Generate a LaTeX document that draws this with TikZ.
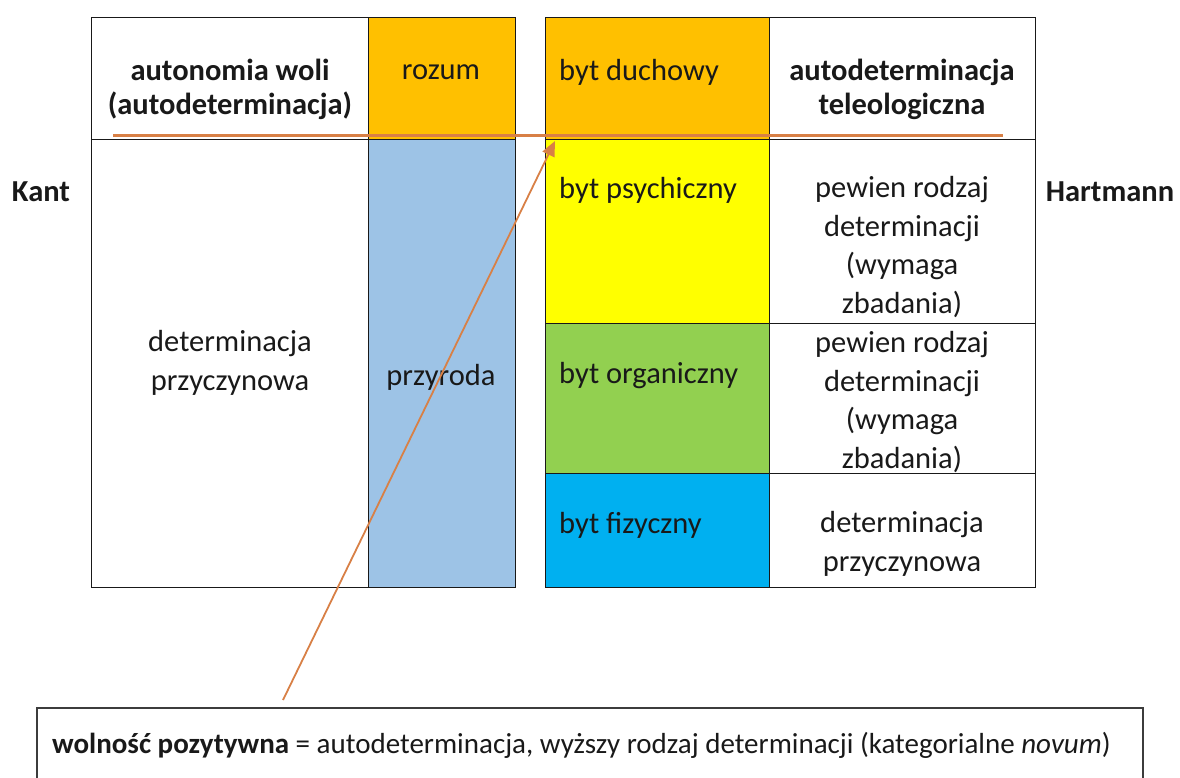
\documentclass[tikz,border=0pt]{standalone}
\usepackage{fontspec}
\setmainfont{Carlito}
\usetikzlibrary{arrows.meta}
\definecolor{gold}{HTML}{FFC000}
\definecolor{skyl}{HTML}{9DC3E6}
\definecolor{yel}{HTML}{FFFF00}
\definecolor{grn}{HTML}{92D050}
\definecolor{cyanb}{HTML}{00B0F0}
\definecolor{orl}{RGB}{216,128,70}
\definecolor{ink}{RGB}{25,25,25}
\begin{document}
\begin{tikzpicture}[x=1pt,y=-1pt,
  cell/.style={draw=ink, line width=1.4pt, inner sep=0pt, anchor=north west},
  txt/.style={font=\fontsize{30.5}{38.5}\selectfont, align=center, text=ink, inner sep=0pt},
  ltxt/.style={txt, anchor=west},
  btxt/.style={txt, font=\fontsize{30.5}{34}\selectfont\bfseries},
  orline/.style={draw=orl, line width=3pt},
  orarrow/.style={draw=orl, line width=1.8pt, -{Triangle[length=15pt,width=13pt]}, fill=orl}]
\useasboundingbox (0,0) rectangle (1180,778);
% left table
\node[cell, minimum width=277pt, minimum height=122pt] (kh) at (91,17) {};
\node[cell, fill=gold, minimum width=147pt, minimum height=122pt] (rh) at (368,17) {};
\node[cell, minimum width=277pt, minimum height=448pt] (kb) at (91,139) {};
\node[cell, fill=skyl, minimum width=147pt, minimum height=448pt] (rb) at (368,139) {};
% right table
\node[cell, fill=gold, minimum width=224pt, minimum height=122pt] (h1) at (545,17) {};
\node[cell, minimum width=266pt, minimum height=122pt] (h2) at (769,17) {};
\node[cell, fill=yel, minimum width=224pt, minimum height=184pt] (p1) at (545,139) {};
\node[cell, minimum width=266pt, minimum height=184pt] (p2) at (769,139) {};
\node[cell, fill=grn, minimum width=224pt, minimum height=150pt] (o1) at (545,323) {};
\node[cell, minimum width=266pt, minimum height=150pt] (o2) at (769,323) {};
\node[cell, fill=cyanb, minimum width=224pt, minimum height=114pt] (f1) at (545,473) {};
\node[cell, minimum width=266pt, minimum height=114pt] (f2) at (769,473) {};
% texts
\node[btxt] (t1) at (230,89) {autonomia woli\\(autodeterminacja)};
\node[txt] (t2) at (441,72) {rozum};
\node[ltxt] (t3) at (559,72) {byt duchowy};
\node[btxt] (t4) at (902,89) {autodeterminacja\\teleologiczna};
\node[txt] (t5) at (230,363) {determinacja\\przyczynowa};
\node[txt] (t6) at (441,377) {przyroda};
\node[ltxt] (t7) at (559,190) {byt psychiczny};
\node[txt] (t8) at (902,247) {pewien rodzaj\\determinacji\\(wymaga\\zbadania)};
\node[ltxt] (t9) at (559,376) {byt organiczny};
\node[txt] (t10) at (902,402) {pewien rodzaj\\determinacji\\(wymaga\\zbadania)};
\node[ltxt] (t11) at (559,525) {byt fizyczny};
\node[txt] (t12) at (902,544) {determinacja\\przyczynowa};
\node[btxt] (kant) at (41,192) {Kant};
\node[btxt] (hart) at (1110,192) {Hartmann};
% bottom box
\node[draw=ink!85, line width=1.5pt, anchor=north west, minimum width=1106pt, minimum height=100pt, inner sep=0pt] (box) at (36,707) {};
\node[txt, anchor=west, font=\fontsize{29}{32}\selectfont] (bt) at (52,745) {\textbf{wolność pozytywna} = autodeterminacja, wyższy rodzaj determinacji (kategorialne \textit{novum})};
% orange line and arrow
\coordinate (ol) at (113,136);
\coordinate (or) at (1003,136);
\draw[orline] (ol) -- (or);
\coordinate (as) at (283,700);
\coordinate (at) at (555,141);
\draw[orarrow] (as) -- (at);
\end{tikzpicture}
\end{document}
